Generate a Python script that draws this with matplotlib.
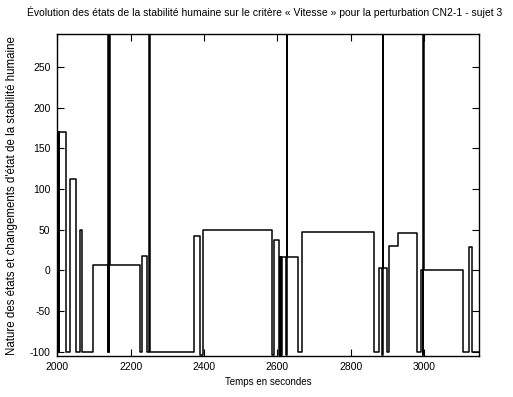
import matplotlib
matplotlib.use("Agg")
import matplotlib.pyplot as plt

# Step data: time (s) at which each state starts, and state value
times = [2000, 2001, 2002, 2003, 2004, 2005, 2023, 2034, 2050, 2061, 2067, 2096,
         2137, 2138, 2139.5, 2140.5, 2142, 2225, 2230, 2243, 2251, 2252,
         2373, 2389, 2398, 2584, 2591, 2605, 2606, 2608, 2609, 2611, 2613,
         2624, 2625, 2627, 2657, 2666, 2863, 2878, 2886, 2887, 2888, 2898,
         2903, 2930, 2980, 2992, 2997, 2998, 2999, 3106, 3123, 3130, 3150]
values = [-100, 170, -100, 170, -100, 170, -100, 112, -100, 50, -100, 7,
          -100, 400, -100, 400, 7, -100, 18, -100, 400, -100,
          42, -104, 50, -104, 38, -104, 17, -104, 17, -104, 17,
          -104, 400, 17, -100, 47, -100, 3, -104, 400, 3, -100,
          30, 46, -100, 1, -104, 400, 1, -100, 29, -100, -100]

title = "Évolution des états de la stabilité humaine sur le critère « Vitesse » pour la perturbation CN2-1 - sujet 3"
xlabel = "Temps en secondes"
ylabel = "Nature des états et changements d'état de la stabilité humaine"
xticks = [2000, 2200, 2400, 2600, 2800, 3000]
yticks = [-100, -50, 0, 50, 100, 150, 200, 250]

plt.rcParams['font.family'] = ['Liberation Sans', 'DejaVu Sans']
plt.rcParams['axes.unicode_minus'] = False

fig = plt.figure(figsize=(5.13, 3.97), dpi=100)
ax = fig.add_axes([0.112, 0.1045, 0.822, 0.809])
ax.plot(times, values, drawstyle='steps-post', color='black', lw=1.1)
ax.set_xlim(2000, 3150)
ax.set_ylim(-104.5, 290)
ax.set_xticks(xticks)
ax.set_yticks(yticks)
ax.tick_params(direction='in', length=5, width=0.8, labelsize=7.5, pad=5,
               top=True, right=True)
for s in ax.spines.values():
    s.set_linewidth(1.0)

fig.text(0.516, 0.968, title, ha='center', va='center', fontsize=7.5)
fig.text(0.523, 0.038, xlabel, ha='center', va='center', fontsize=7)
fig.text(0.024, 0.508, ylabel, ha='center', va='center', rotation=90, fontsize=8.3)

fig.savefig("out.png", dpi=100)
